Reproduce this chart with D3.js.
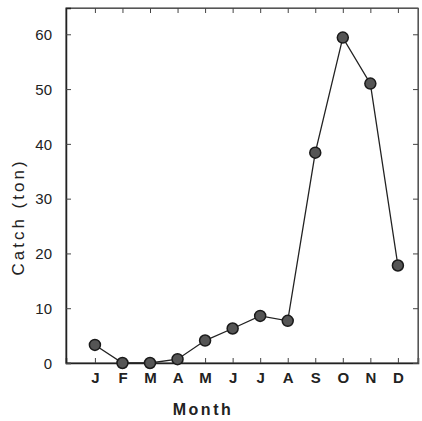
<!DOCTYPE html>
<html>
<head>
<meta charset="utf-8">
<script src="https://cdn.jsdelivr.net/npm/d3@7"></script>
<style>
  body { margin: 0; background: #fff; }
  svg text { font-family: "Liberation Sans", Arial, sans-serif; fill: #222; }
</style>
</head>
<body>
<div id="plot"></div>
<script>
// Monthly catch data
const months = ['J','F','M','A','M','J','J','A','S','O','N','D'];
const monthIndex = [1,2,3,4,5,6,7,8,9,10,11,12];
const catchTon = [3.3, 0, 0, 0.7, 4.1, 6.3, 8.6, 7.7, 38.4, 59.4, 51.0, 17.8];
const yTicks = [0, 10, 20, 30, 40, 50, 60];

const margin = {top: 8, right: 4, bottom: 58, left: 66};
const W = 422, H = 421;
const width = W - margin.left - margin.right;
const height = H - margin.top - margin.bottom;

const svg = d3.select("#plot")
  .append("svg")
  .attr("width", W)
  .attr("height", H);

const g = svg.append("g")
  .attr("transform", `translate(${margin.left},${margin.top})`);

// Scales
const x = d3.scaleLinear().domain([-0.05, 12.73]).range([0, width]);
const y = d3.scaleLinear().domain([0, 64.8]).range([height, 0]);

// Frame
g.append("rect")
  .attr("width", width)
  .attr("height", height)
  .attr("fill", "none")
  .attr("stroke", "#333")
  .attr("stroke-width", 1);

// Axes with inward ticks
const xAxis = d3.axisBottom(x).tickValues(monthIndex).tickSize(-5).tickPadding(9)
  .tickFormat((d, i) => months[i]);
const xTop = d3.axisTop(x).tickValues(monthIndex).tickSize(-5).tickFormat("");
const yAxis = d3.axisLeft(y).tickValues(yTicks).tickSize(-5).tickPadding(14);
const yRight = d3.axisRight(y).tickValues(yTicks).tickSize(-5).tickFormat("");

g.append("g").attr("transform", `translate(0,${height})`).call(xAxis)
  .call(s => s.select(".domain").attr("stroke", "#222").attr("stroke-width", 1.5))
  .selectAll("text").style("font-size", "15px").style("font-weight", "bold").attr("dy", "0.71em");
g.append("g").call(xTop).select(".domain").attr("stroke", "#555");
g.append("g").call(yAxis)
  .call(s => s.select(".domain").attr("stroke", "#222").attr("stroke-width", 1.5))
  .selectAll("text").style("font-size", "15px").attr("dy", "0.35em");
g.append("g").attr("transform", `translate(${width},0)`).call(yRight)
  .select(".domain").attr("stroke", "#555");

g.selectAll(".tick line").attr("stroke", "#444");

// Line
const data = monthIndex.map((m, i) => ({m: m, v: catchTon[i]}));
g.append("path")
  .datum(data)
  .attr("fill", "none")
  .attr("stroke", "#222")
  .attr("stroke-width", 1.3)
  .attr("d", d3.line().x(d => x(d.m)).y(d => y(d.v)));

// Markers
g.selectAll(".pt")
  .data(data)
  .enter()
  .append("circle")
  .attr("class", "pt")
  .attr("cx", d => x(d.m))
  .attr("cy", d => y(d.v))
  .attr("r", 5.5)
  .attr("fill", "#555")
  .attr("stroke", "#1a1a1a")
  .attr("stroke-width", 1.5);

// Axis titles
svg.append("text")
  .attr("x", 203)
  .attr("y", 415)
  .attr("text-anchor", "middle")
  .style("font-size", "16px")
  .style("font-weight", "bold")
  .style("letter-spacing", "2.5px")
  .text("Month");

svg.append("text")
  .attr("transform", "translate(24,217) rotate(-90)")
  .attr("text-anchor", "middle")
  .style("font-size", "17px")
  .style("letter-spacing", "3px")
  .text("Catch (ton)");
</script>
</body>
</html>
